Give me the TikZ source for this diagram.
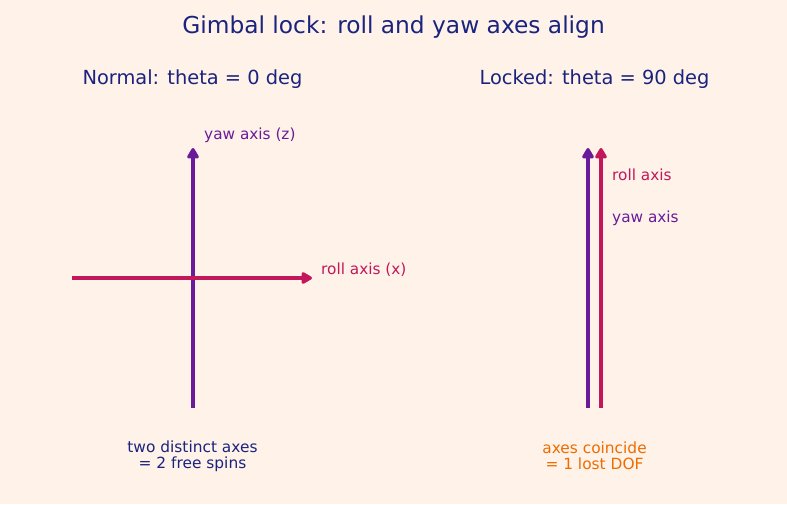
\documentclass[tikz,border=0pt]{standalone}
\usepackage{fontspec}
\setmainfont{DejaVu Sans}
\usetikzlibrary{arrows.meta}
\definecolor{bgc}{HTML}{FFF2E8}
\definecolor{navy}{HTML}{1A237E}
\definecolor{yawc}{HTML}{6A1B9A}
\definecolor{rollc}{HTML}{C2185B}
\definecolor{orangec}{HTML}{EF6C00}
\begin{document}
\begin{tikzpicture}[x=1pt,y=-1pt,
  axisline/.style={line width=3.4pt,-{Triangle[length=12pt,width=13pt,round]}},
  lbl/.style={font=\fontsize{15.3}{17}\selectfont,inner sep=0pt},
  sub/.style={font=\fontsize{19.4}{21}\selectfont,text=navy,inner sep=0pt},
  captext/.style={font=\fontsize{15.4}{16}\selectfont,align=center,inner sep=0pt}]
\fill[bgc] (0,0) rectangle (787,504);
\useasboundingbox (0,0) rectangle (787,504);
\node[font=\fontsize{23.3}{26}\selectfont,text=navy,inner sep=0pt] (title) at (393.5,27) {Gimbal lock: roll and yaw axes align};
\node[sub] (subl) at (192.5,79) {Normal: theta = 0 deg};
\node[sub] (subr) at (594.5,79) {Locked: theta = 90 deg};
% left
\coordinate (yb) at (193,408);
\coordinate (yt) at (193,148);
\coordinate (rl) at (72,278);
\coordinate (rr) at (312,278);
\draw[axisline,yawc] (yb) -- (yt);
\draw[axisline,rollc] (rl) -- (rr);
\node[lbl,text=yawc,anchor=west] (yawl) at (204,135.5) {yaw axis (z)};
\node[lbl,text=rollc,anchor=west] (rolll) at (321,269.5) {roll axis (x)};
% right
\coordinate (pb) at (588,408);
\coordinate (pt) at (588,148);
\coordinate (cb) at (601,408);
\coordinate (ct) at (601,148);
\draw[axisline,yawc] (pb) -- (pt);
\draw[axisline,rollc] (cb) -- (ct);
\node[lbl,text=rollc,anchor=west] (rollr) at (612,174.5) {roll axis};
\node[lbl,text=yawc,anchor=west] (yawr) at (612,218.5) {yaw axis};
% captions
\node[captext,text=navy] (capl) at (192.5,456) {two distinct axes\\= 2 free spins};
\node[captext,text=orangec] (capr) at (594.5,456) {axes coincide\\= 1 lost DOF};
\end{tikzpicture}
\end{document}
